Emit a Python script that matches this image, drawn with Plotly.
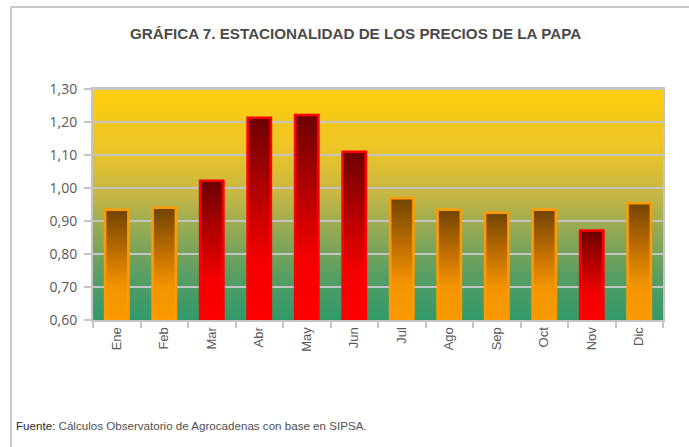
import plotly.graph_objects as go

months = ["Ene", "Feb", "Mar", "Abr", "May", "Jun", "Jul", "Ago", "Sep", "Oct", "Nov", "Dic"]
values = [0.934, 0.940, 1.022, 1.213, 1.221, 1.110, 0.969, 0.934, 0.925, 0.934, 0.871, 0.954]
highlight = [False, False, True, True, True, True, False, False, False, False, True, False]
y_ticks = [0.60, 0.70, 0.80, 0.90, 1.00, 1.10, 1.20, 1.30]

title_text = "GRÁFICA 7. ESTACIONALIDAD DE LOS PRECIOS DE LA PAPA"
source_label = "Fuente:"
source_text = "Cálculos Observatorio de Agrocadenas con base en SIPSA."

Y_MIN, Y_MAX = y_ticks[0], y_ticks[-1]
X_MIN, X_MAX = -0.5, len(months) - 0.5
BAR_W = 0.49

# plot area pixel geometry
W, H = 689, 447
L, R, T, B = 93, 26, 89, 127
PW, PH = W - L - R, H - T - B


def px_x(p):
    return (p - L) / PW


def px_y(p):
    return (H - B - p) / PH


bg_scale = [[0.0, "#319a6b"], [0.18, "#559d64"], [0.38, "#91a955"],
            [0.55, "#c8b744"], [0.75, "#edc526"], [1.0, "#fecd0d"]]
orange_scale = [[0.0, "#fa9a00"], [0.3, "#f39300"], [0.62, "#bd6d00"], [1.0, "#704400"]]
red_scale = [[0.0, "#ff0000"], [0.3, "#f20000"], [0.65, "#b00000"], [1.0, "#6c0000"]]

fig = go.Figure()

# gradient background of the plot area
fig.add_trace(go.Scatter(
    x=[X_MIN, X_MAX, X_MAX, X_MIN, X_MIN],
    y=[Y_MIN, Y_MIN, Y_MAX, Y_MAX, Y_MIN],
    mode="lines", line=dict(width=0), fill="toself",
    fillgradient=dict(type="vertical", colorscale=bg_scale),
    hoverinfo="skip", showlegend=False,
))

# gridlines on top of background
gx, gy = [], []
for t in y_ticks[1:]:
    gx += [X_MIN, X_MAX, None]
    gy += [t, t, None]
fig.add_trace(go.Scatter(x=gx, y=gy, mode="lines",
                         line=dict(color="#c4c4c4", width=2),
                         hoverinfo="skip", showlegend=False))

# bars: gradient fill with coloured outline
for i, (m, v, h) in enumerate(zip(months, values, highlight)):
    fig.add_trace(go.Scatter(
        x=[i - BAR_W / 2, i + BAR_W / 2, i + BAR_W / 2, i - BAR_W / 2, i - BAR_W / 2],
        y=[Y_MIN, Y_MIN, v, v, Y_MIN],
        mode="lines", fill="toself",
        line=dict(width=2.6, color="#ff0000" if h else "#ff9a00"),
        fillgradient=dict(type="vertical", colorscale=red_scale if h else orange_scale),
        name=m, hoveron="fills", showlegend=False,
    ))

fig.update_layout(
    width=W, height=H,
    margin=dict(l=L, r=R, t=T, b=B),
    paper_bgcolor="white", plot_bgcolor="white",
    separators=",.",
    showlegend=False,
    xaxis=dict(
        range=[X_MIN, X_MAX], tickmode="array",
        tickvals=list(range(len(months))), ticktext=months,
        ticks="", tickangle=-90,
        tickfont=dict(family="Liberation Sans, Arial", size=13, color="#595959"),
        showgrid=False, zeroline=False,
        showline=True, linecolor="#c4c4c4", linewidth=2, mirror=True,
        minor=dict(tick0=-0.5, dtick=1, ticks="outside", ticklen=6,
                   tickcolor="#c4c4c4", tickwidth=2, showgrid=False),
    ),
    yaxis=dict(
        range=[Y_MIN, Y_MAX], tickmode="array", tickvals=y_ticks,
        tickformat=".2f", ticks="outside", ticklen=7, tickcolor="#c4c4c4", tickwidth=2,
        ticklabelstandoff=4,
        tickfont=dict(family="Open Sans, Arial", size=14, color="#595959"),
        showgrid=False, zeroline=False,
        showline=True, linecolor="#c4c4c4", linewidth=2, mirror=True,
    ),
    shapes=[
        dict(type="line", xref="paper", yref="paper",
             x0=px_x(11), x1=px_x(W + 2), y0=px_y(7), y1=px_y(7),
             line=dict(color="#c8c8c8", width=2)),
        dict(type="line", xref="paper", yref="paper",
             x0=px_x(11), x1=px_x(11), y0=px_y(7), y1=px_y(H + 2),
             line=dict(color="#c8c8c8", width=2)),
    ],
    annotations=[
        dict(text=f"<b>{title_text}</b>", xref="paper", yref="paper",
             x=px_x(355), y=px_y(33), xanchor="center", yanchor="middle",
             showarrow=False,
             font=dict(family="Liberation Sans, Arial", size=15.2, color="#4a4a4a")),
        dict(text=f"<span style='color:#2a2a2a'>{source_label}</span> {source_text}",
             xref="paper", yref="paper",
             x=px_x(14), y=px_y(425), xanchor="left", yanchor="middle",
             showarrow=False,
             font=dict(family="Liberation Sans, Arial", size=11.6, color="#505050")),
    ],
)

fig.write_html("out.html", config={"displayModeBar": False},
               post_script="document.body.style.margin='0';")
